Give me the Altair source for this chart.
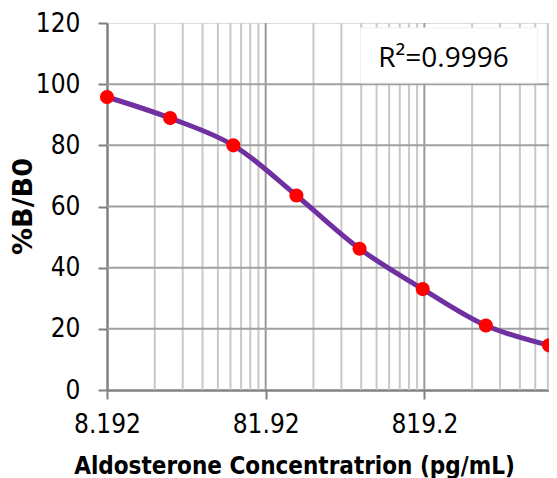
import altair as alt
import pandas as pd

# Standards (pg/mL) and %B/B0 values
conc = [8.192, 20.48, 51.2, 128, 320, 800, 2000, 5000]
bb0 = [95.8, 88.9, 80.0, 63.6, 46.2, 33.0, 21.1, 14.6]

x_domain = [8.192, 5000]
y_domain = [0, 120]
x_tick_values = [8.192, 81.92, 819.2]
y_tick_values = [0, 20, 40, 60, 80, 100, 120]
minor_grid = [16.384, 24.576, 32.768, 40.96, 49.152, 57.344, 65.536, 73.728,
              163.84, 245.76, 327.68, 409.6, 491.52, 573.44, 655.36, 737.28,
              1638.4, 2457.6, 3276.8, 4096.0, 4915.2]
major_grid = [81.92, 819.2]
h_grid = [20, 40, 60, 80, 100]

r2_label = ["R²=0.9996"]
r2_box = {"x": [323.6], "x2": [4240], "y": [100.4], "y2": [118.4]}
r2_pos = {"x": [1082], "y": [108.2]}

FONT = "DejaVu Sans Condensed"

df = pd.DataFrame({"conc": conc, "bb0": bb0})

xs = alt.Scale(type="log", domain=x_domain, nice=False)
ys = alt.Scale(domain=y_domain, nice=False)

x_axis = alt.Axis(
    values=x_tick_values, format=".4~r", grid=False,
    title="Aldosterone Concentratrion (pg/mL)",
    domainColor="#808080", domainWidth=2.5, tickColor="#808080", tickWidth=2,
    tickSize=9, labelFont=FONT, labelFontSize=26, labelColor="black",
    labelPadding=12, labelFlush=False, labelOverlap=False,
    titleFont=FONT, titleFontSize=24, titleFontWeight="bold", titleColor="black",
    titleX=187, titleY=76, titleBaseline="middle", titleAnchor="middle",
)
y_axis = alt.Axis(
    values=y_tick_values, grid=False, title="%B/B0",
    domainColor="#808080", domainWidth=2.5, tickColor="#808080", tickWidth=2,
    tickSize=9, labelFont=FONT, labelFontSize=26, labelColor="black",
    labelPadding=18,
    titleFont="DejaVu Sans", titleFontSize=27, titleFontWeight="bold", titleColor="black",
    titleX=-84, titleY=183, titleBaseline="middle", titleAnchor="middle", titleAngle=-90,
)

minor_rules = alt.Chart(pd.DataFrame({"g": minor_grid})).mark_rule(
    color="#c8c8c8", strokeWidth=2
).encode(x=alt.X("g:Q", scale=xs, axis=x_axis))

major_rules = alt.Chart(pd.DataFrame({"g": major_grid})).mark_rule(
    color="#9a9a9a", strokeWidth=2
).encode(x=alt.X("g:Q", scale=xs))

h_rules = alt.Chart(pd.DataFrame({"h": h_grid})).mark_rule(
    color="#a0a0a0", strokeWidth=2
).encode(y=alt.Y("h:Q", scale=ys, axis=y_axis))

line = alt.Chart(df).mark_line(
    color="#7030A0", strokeWidth=5, interpolate="catmull-rom", clip=True
).encode(x=alt.X("conc:Q", scale=xs), y=alt.Y("bb0:Q", scale=ys))

points = alt.Chart(df).mark_circle(
    color="#FF0000", size=200, opacity=1
).encode(x=alt.X("conc:Q", scale=xs), y=alt.Y("bb0:Q", scale=ys))

box = alt.Chart(pd.DataFrame(r2_box)).mark_rect(
    fill="white", stroke="#f0f0f0", strokeWidth=1
).encode(
    x=alt.X("x:Q", scale=xs), x2="x2:Q",
    y=alt.Y("y:Q", scale=ys), y2="y2:Q",
)

r2_text = alt.Chart(pd.DataFrame({"x": r2_pos["x"], "y": r2_pos["y"], "t": r2_label})).mark_text(
    font="Open Sans", fontSize=28, color="black", align="center", baseline="middle"
).encode(x=alt.X("x:Q", scale=xs), y=alt.Y("y:Q", scale=ys), text="t:N")

chart = alt.layer(minor_rules, major_rules, h_rules, box, r2_text, line, points).properties(
    width=442, height=367,
    autosize=alt.AutoSizeParams(type="none"),
    padding={"left": 99, "top": 15, "right": 0, "bottom": 88},
).configure_view(
    stroke="#9a9a9a", strokeWidth=2
).configure(background="white")

chart.save("out.html", embed_options={"renderer": "svg", "actions": False})
